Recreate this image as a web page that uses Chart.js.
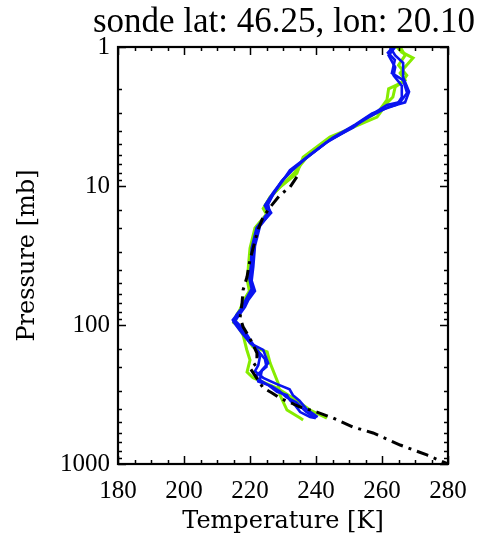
<!DOCTYPE html>
<html>
<head>
<meta charset="utf-8">
<script src="https://cdn.jsdelivr.net/npm/chart.js@4/dist/chart.umd.min.js"></script>
<style>
  html, body { margin: 0; padding: 0; background: #fff; }
  #wrap { width: 483px; height: 539px; }
</style>
</head>
<body>
<div id="wrap"><canvas id="c" width="483" height="539"></canvas></div>
<script>
/* ===== sonde profile: temperature vs pressure ===== */
"use strict";

// dash-dot reference profile (black)
var tempModel = [234.2, 232.1, 229.1, 226.1, 224.0, 222.4, 220.0, 219.1, 217.9, 217.6, 217.0, 217.9, 220.0, 222.1, 222.1, 220.0, 222.4, 224.0, 226.7, 229.0, 235.2, 240.3, 245.2, 251.2, 257.3, 265.5, 273.6, 280.0];
var presModel = [8.6, 10.2, 11.6, 14.2, 16.7, 20.7, 34, 45, 56, 69, 88, 103, 125, 159, 188, 204, 249, 284, 308, 335, 389, 423, 467, 542, 598, 730, 861, 1000];

// blue profiles
var tempBlue1 = [263.3, 261.8, 263.9, 263.0, 266.4, 267.6, 265.5, 261.5, 254.2, 251.2, 244.2, 237.3, 232.1, 230.0, 227.5, 225.0, 226.4, 222.4, 221.0, 220.6, 220.0, 221.0, 219.0, 218.0, 216.4, 214.8, 217.6, 220.0, 224.0, 225.5, 223.6, 223.0, 225.5, 228.2, 231.2, 232.1, 233.6, 235.2, 238.2, 239.7];
var presBlue1 = [1.0, 1.1, 1.24, 1.54, 1.73, 2.14, 2.49, 2.61, 3.35, 3.8, 4.67, 6.2, 7.7, 9.1, 11, 13.7, 15.6, 19.7, 27.5, 38, 47, 56, 66, 75, 82, 92, 108, 135, 151, 188, 211, 249, 270, 303, 319, 347, 376, 423, 459, 467];
var tempBlue2 = [262.4, 264.0, 266.4, 266.4, 268.2, 267.0, 262.0, 256.0, 250.0, 243.0, 237.0, 232.5, 229.5, 227.0, 225.5, 226.0, 223.0, 221.5, 221.0, 220.5, 221.5, 219.5, 218.5, 217.0, 215.5, 218.0, 220.5, 222.0, 224.5, 225.0, 222.0, 222.5, 226.5, 229.0, 231.0, 234.0, 237.0, 240.0];
var presBlue2 = [1.0, 1.15, 1.3, 1.65, 2.1, 2.5, 2.7, 3.2, 3.9, 4.9, 6.3, 7.8, 9.3, 11.5, 13.5, 15.8, 19.5, 27, 38, 48, 57, 66, 74, 83, 93, 107, 133, 150, 175, 200, 230, 255, 275, 300, 330, 360, 420, 470];
var tempBlue3 = [264.0, 262.0, 264.0, 263.5, 266.0, 266.0, 264.5, 257.0, 252.0, 245.0, 238.0, 233.0, 230.0, 227.0, 224.5, 225.5, 222.0, 220.5, 220.3, 219.8, 220.5, 218.8, 217.5, 216.0, 215.0, 217.0, 219.5, 221.5, 223.0, 222.5, 221.5, 224.0, 228.0, 232.0, 233.0, 235.0, 237.0, 240.5];
var presBlue3 = [1.0, 1.15, 1.4, 1.6, 1.9, 2.3, 2.6, 3.0, 3.6, 4.5, 6.0, 7.6, 9.0, 11.2, 13.8, 15.5, 20, 28, 37, 46, 55, 65, 76, 84, 95, 110, 130, 145, 170, 195, 215, 240, 265, 290, 320, 350, 400, 460];

// green profiles
var tempGreen1 = [264.5, 266.0, 269.4, 267.0, 265.5, 267.0, 264.0, 263.3, 261.8, 258.5, 249.4, 244.2, 236.1, 234.2, 229.5, 226.1, 224.5, 225.5, 222.0, 220.5, 220.0, 219.5, 220.3, 218.5, 217.5, 216.0, 215.5, 217.9, 220.9, 225.2, 226.1, 228.5, 229.1, 231.2, 235.2, 236.1];
var presGreen1 = [1.0, 1.09, 1.2, 1.39, 1.54, 1.73, 1.94, 2.29, 2.49, 3.19, 3.95, 4.44, 6.2, 8.1, 10, 12, 14, 15.5, 19.5, 27, 37, 47, 56, 66, 76, 85, 97, 114, 144, 156, 188, 261, 319, 409, 467, 482];
var tempGreen2 = [265.5, 267.0, 265.0, 267.5, 266.0, 262.0, 261.5, 259.0, 250.0, 243.0, 237.0, 233.5, 229.0, 226.0, 224.0, 225.0, 221.5, 220.0, 219.5, 219.2, 219.8, 218.0, 217.0, 215.8, 215.0, 216.1, 217.9, 219.0, 220.0, 219.1, 220.9, 228.2, 233.0, 238.2, 243.3];
var presGreen2 = [1.0, 1.15, 1.35, 1.6, 1.8, 2.0, 2.4, 2.9, 3.9, 4.8, 6.3, 8.0, 10.2, 12.2, 14.5, 16, 20, 28, 38, 48, 57, 67, 77, 86, 96, 100, 118, 150, 179, 218, 240, 284, 335, 409, 467];

// axis labels
var xMajorTicks = [180, 200, 220, 240, 260, 280];
var yMajorTicks = [1, 10, 100, 1000];

var NUM_FONT = "'Liberation Serif', 'Times New Roman', serif";
var TXT_FONT = "'DejaVu Serif', serif";

function pts(t, p) { return t.map(function (v, i) { return { x: v, y: p[i] }; }); }
function line(t, p, color, width, dash) {
  return { data: pts(t, p), borderColor: color, backgroundColor: color, borderWidth: width,
    borderDash: dash || [], showLine: true, pointRadius: 0, tension: 0, fill: false };
}

// inward tick marks on all four sides plus the box
var frameTicks = {
  id: "frameTicks",
  afterDatasetsDraw: function (chart) {
    var ctx = chart.ctx, a = chart.chartArea, sx = chart.scales.x, sy = chart.scales.y;
    ctx.save();
    ctx.strokeStyle = "#000";
    ctx.lineWidth = 1.5;
    ctx.beginPath();
    sx.ticks.forEach(function (t) {
      var px = Math.round(sx.getPixelForValue(t.value)) + 0.5;
      var len = xMajorTicks.indexOf(t.value) >= 0 ? 8 : 4;
      ctx.moveTo(px, a.bottom); ctx.lineTo(px, a.bottom - len);
      ctx.moveTo(px, a.top); ctx.lineTo(px, a.top + len);
    });
    sy.ticks.forEach(function (t) {
      var py = Math.round(sy.getPixelForValue(t.value)) + 0.5;
      var len = yMajorTicks.indexOf(t.value) >= 0 ? 8 : 4;
      ctx.moveTo(a.left, py); ctx.lineTo(a.left + len, py);
      ctx.moveTo(a.right, py); ctx.lineTo(a.right - len, py);
    });
    ctx.stroke();
    ctx.lineWidth = 2.2;
    ctx.strokeRect(a.left, a.top, a.right - a.left, a.bottom - a.top);
    ctx.restore();
  }
};

new Chart(document.getElementById("c"), {
  type: "scatter",
  data: {
    datasets: [
      line(tempModel, presModel, "#000000", 3, [12, 6, 3, 6]),
      line(tempBlue1, presBlue1, "#0a14f0", 2.6),
      line(tempBlue2, presBlue2, "#0a14f0", 2.6),
      line(tempBlue3, presBlue3, "#0a14f0", 2.6),
      line(tempGreen1, presGreen1, "#86ec00", 3),
      line(tempGreen2, presGreen2, "#86ec00", 3)
    ]
  },
  options: {
    responsive: false,
    animation: false,
    layout: { padding: { left: 0, right: 8, top: 0, bottom: 0 } },
    plugins: {
      legend: { display: false },
      tooltip: { enabled: false },
      title: {
        display: true, align: "end", text: "sonde lat: 46.25, lon: 20.10", color: "#000",
        font: { family: NUM_FONT, size: 35, weight: "normal" }, padding: { top: 2, bottom: 3 }
      }
    },
    scales: {
      x: {
        type: "linear", min: 180, max: 280,
        grid: { display: false, drawTicks: false }, border: { display: false },
        afterFit: function (s) { s.height = 75; },
        ticks: {
          stepSize: 5, autoSkip: false, maxRotation: 0, padding: 12, color: "#000",
          font: { family: NUM_FONT, size: 25 },
          callback: function (v) { return xMajorTicks.indexOf(v) >= 0 ? String(v) : ""; }
        },
        title: { display: true, text: "Temperature [K]", color: "#000", padding: { top: 0, bottom: 3 },
          font: { family: TXT_FONT, size: 24 } }
      },
      y: {
        type: "logarithmic", min: 1, max: 1000, reverse: true,
        grid: { display: false, drawTicks: false }, border: { display: false },
        afterFit: function (s) { s.width = 118; },
        ticks: {
          autoSkip: false, padding: 8, color: "#000",
          font: { family: NUM_FONT, size: 25 },
          callback: function (v) { return yMajorTicks.indexOf(v) >= 0 ? String(v) : ""; }
        },
        title: { display: true, text: "Pressure [mb]", color: "#000", padding: { top: 13, bottom: 0 },
          font: { family: TXT_FONT, size: 24 } }
      },
      // empty right-hand spacer so the plot box ends at the same place
      yRight: {
        type: "linear", position: "right", display: true,
        grid: { display: false, drawTicks: false }, border: { display: false },
        ticks: { display: false },
        afterFit: function (s) { s.width = 27; }
      }
    }
  },
  plugins: [frameTicks]
});
</script>
</body>
</html>
